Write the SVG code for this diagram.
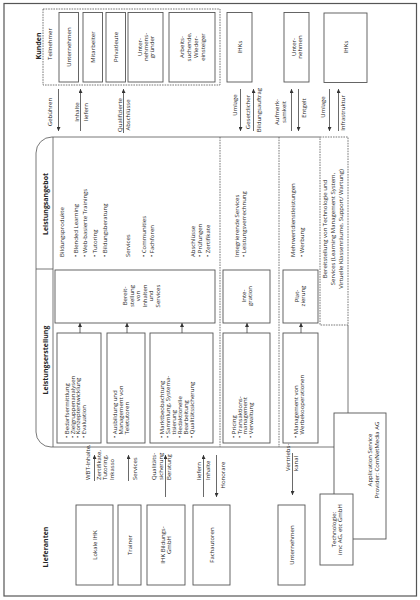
<svg xmlns="http://www.w3.org/2000/svg" width="420" height="600" viewBox="0 0 420 600">
<defs>
<style>
text{font-family:"Open Sans","DejaVu Sans",sans-serif;font-size:6px;fill:#262626}
.b{font-weight:bold;font-size:7px}
.m{text-anchor:middle}
.box{fill:#fff;stroke:#555;stroke-width:0.9}
.dash{fill:none;stroke:#555;stroke-width:0.8;stroke-dasharray:1.6 1}
.ln{fill:none;stroke:#555;stroke-width:0.8}
.ar{fill:none;stroke:#444;stroke-width:0.8;marker-end:url(#ah)}
</style>
<marker id="ah" viewBox="0 0 6 6" refX="6" refY="3" markerWidth="4" markerHeight="4" orient="auto" markerUnits="userSpaceOnUse"><path d="M0,0 L6,3 L0,6 z" fill="#333"/></marker>
</defs>
<rect x="4" y="3.5" width="412.5" height="592.5" fill="#fff" stroke="#555" stroke-width="1.2"/>

<g id="kunden">
<text class="b m" x="40.5" y="46" transform="rotate(-90 40.5 46)">Kunden</text>
<rect class="dash" x="43" y="9" width="177" height="76"/>
<text class="m" x="52" y="44" transform="rotate(-90 52 44)">Teilnehmer</text>
</g>
<g id="k-unternehmen"><rect class="box" x="59" y="12.5" width="19.5" height="69.5"/><text class="m" x="71" y="47" transform="rotate(-90 71 47)">Unternehmen</text></g>
<g id="k-mitarbeiter"><rect class="box" x="83" y="12.5" width="19.5" height="69.5"/><text class="m" x="94.5" y="47" transform="rotate(-90 94.5 47)">Mitarbeiter</text></g>
<g id="k-privatleute"><rect class="box" x="106" y="12.5" width="19.5" height="69.5"/><text class="m" x="117.5" y="47" transform="rotate(-90 117.5 47)">Privatleute</text></g>
<g id="k-gruender"><rect class="box" x="128" y="12.5" width="35" height="69.5"/>
<text class="m" x="141.5" y="47" transform="rotate(-90 141.5 47)">Unter-</text>
<text class="m" x="147.5" y="47" transform="rotate(-90 147.5 47)">nehmens-</text>
<text class="m" x="153.5" y="47" transform="rotate(-90 153.5 47)">gründer</text></g>
<g id="k-arbeitsuchende"><rect class="box" x="169" y="12.5" width="46" height="69.5"/>
<text class="m" x="183.5" y="47" transform="rotate(-90 183.5 47)">Arbeits-</text>
<text class="m" x="190.5" y="47" transform="rotate(-90 190.5 47)">suchende,</text>
<text class="m" x="197.5" y="47" transform="rotate(-90 197.5 47)">Wieder-</text>
<text class="m" x="204.5" y="47" transform="rotate(-90 204.5 47)">einsteiger</text></g>
<g id="k-ihks1"><rect class="box" x="227" y="12.5" width="25" height="69.5"/><text class="m" x="241.5" y="47" transform="rotate(-90 241.5 47)">IHKs</text></g>
<g id="k-unternehmen2"><rect class="box" x="284" y="12.5" width="25" height="69.5"/>
<text class="m" x="295.5" y="47" transform="rotate(-90 295.5 47)">Unter-</text>
<text class="m" x="301.5" y="47" transform="rotate(-90 301.5 47)">nehmen</text></g>
<g id="k-ihks2"><rect class="box" x="324" y="13" width="43" height="69.5"/><text class="m" x="347.5" y="47" transform="rotate(-90 347.5 47)">IHKs</text></g>

<g id="wertschoepfung">
<path class="ln" d="M320 137 H52 A16 16 0 0 0 36 153 V432 A15 15 0 0 0 51 447 H334"/>
<line class="ln" x1="53" y1="137" x2="53" y2="447"/>
<line class="ln" x1="36" y1="269" x2="53" y2="269"/>
<line class="dash" x1="220" y1="137" x2="220" y2="447"/>
<line class="dash" x1="279" y1="137" x2="279" y2="447"/>
<text class="b m" x="47.5" y="204" transform="rotate(-90 47.5 204)">Leistungsangebot</text>
<text class="b m" x="47.5" y="360" transform="rotate(-90 47.5 360)">Leistungserstellung</text>
</g>

<g id="angebot-bildung">
<text x="64" y="257" transform="rotate(-90 64 257)">Bildungsprodukte</text>
<text x="78" y="257" transform="rotate(-90 78 257)">• Blended Learning</text>
<text x="87" y="257" transform="rotate(-90 87 257)">• Web-basierte Trainings</text>
<text x="97" y="257" transform="rotate(-90 97 257)">• Tutoring</text>
<text x="107" y="257" transform="rotate(-90 107 257)">• Bildungsberatung</text>
<text x="130" y="257" transform="rotate(-90 130 257)">Services</text>
<text x="146" y="257" transform="rotate(-90 146 257)">• Communities</text>
<text x="154" y="257" transform="rotate(-90 154 257)">• Fachforen</text>
<text x="195" y="257" transform="rotate(-90 195 257)">Abschlüsse</text>
<text x="202" y="257" transform="rotate(-90 202 257)">• Prüfungen</text>
<text x="210" y="257" transform="rotate(-90 210 257)">• Zertifikate</text>
</g>
<g id="angebot-integration">
<text x="239" y="257" transform="rotate(-90 239 257)">Integrierende Services</text>
<text x="246" y="257" transform="rotate(-90 246 257)">• Leistungsverrechnung</text>
</g>
<g id="angebot-mehrwert">
<text x="295" y="257" transform="rotate(-90 295 257)">Mehrwertdienstleistungen</text>
<text x="304" y="257" transform="rotate(-90 304 257)">• Werbung</text>
</g>
<g id="technologie-services">
<rect class="dash" x="320" y="137" width="28" height="188"/>
<text class="m" x="327" y="229" transform="rotate(-90 327 229)">Bereitstellung von Technologie und</text>
<text class="m" x="335" y="229" transform="rotate(-90 335 229)">Services (Learning Management System,</text>
<text class="m" x="343" y="229" transform="rotate(-90 343 229)">Virtuelle Klassenräume, Support/ Wartung)</text>
</g>

<g id="bereitstellung"><rect class="box" x="55" y="270" width="160" height="53"/>
<text class="m" x="127" y="296" transform="rotate(-90 127 296)">Bereit-</text>
<text class="m" x="133.5" y="296" transform="rotate(-90 133.5 296)">stellung</text>
<text class="m" x="140" y="296" transform="rotate(-90 140 296)">von</text>
<text class="m" x="146.5" y="296" transform="rotate(-90 146.5 296)">Inhalten</text>
<text class="m" x="153" y="296" transform="rotate(-90 153 296)">und</text>
<text class="m" x="159.5" y="296" transform="rotate(-90 159.5 296)">Services</text></g>
<g id="integration"><rect class="box" x="223" y="270" width="47" height="53"/>
<text class="m" x="245.5" y="296" transform="rotate(-90 245.5 296)">Inte-</text>
<text class="m" x="251.5" y="296" transform="rotate(-90 251.5 296)">gration</text></g>
<g id="platzierung"><rect class="box" x="283" y="270" width="35" height="53"/>
<text class="m" x="299" y="296" transform="rotate(-90 299 296)">Plat-</text>
<text class="m" x="305" y="296" transform="rotate(-90 305 296)">zierung</text></g>

<g id="e-bedarf"><rect class="box" x="57" y="333" width="44" height="110"/>
<text x="69" y="438" transform="rotate(-90 69 438)">• Bedarfsermittlung</text>
<text x="74.5" y="438" transform="rotate(-90 74.5 438)">• Zielgruppenanalysen</text>
<text x="80" y="438" transform="rotate(-90 80 438)">• Konzeptentwicklung</text>
<text x="85.5" y="438" transform="rotate(-90 85.5 438)">• Evaluation</text></g>
<g id="e-tutoren"><rect class="box" x="107" y="333" width="38" height="110"/>
<text x="117" y="438" transform="rotate(-90 117 438)">• Ausbildung und</text>
<text x="123" y="434.5" transform="rotate(-90 123 434.5)">Management von</text>
<text x="129" y="434.5" transform="rotate(-90 129 434.5)">Teletutoren</text></g>
<g id="e-markt"><rect class="box" x="150" y="333" width="63" height="110"/>
<text x="164" y="438" transform="rotate(-90 164 438)">• Marktbeobachtung</text>
<text x="170" y="438" transform="rotate(-90 170 438)">• Sammlung, Systema-</text>
<text x="176" y="434.5" transform="rotate(-90 176 434.5)">tisierung</text>
<text x="182" y="438" transform="rotate(-90 182 438)">• Redaktionelle</text>
<text x="188" y="434.5" transform="rotate(-90 188 434.5)">Bearbeitung</text>
<text x="194" y="438" transform="rotate(-90 194 438)">• Qualitätssicherung</text></g>
<g id="e-pricing"><rect class="box" x="223" y="333" width="47" height="110"/>
<text x="236" y="438" transform="rotate(-90 236 438)">• Pricing</text>
<text x="241.5" y="438" transform="rotate(-90 241.5 438)">• Transaktions-</text>
<text x="247" y="434.5" transform="rotate(-90 247 434.5)">management</text>
<text x="252.5" y="438" transform="rotate(-90 252.5 438)">• Verwaltung</text></g>
<g id="e-werbung"><rect class="box" x="283" y="333" width="35" height="110"/>
<text x="298" y="438" transform="rotate(-90 298 438)">• Management von</text>
<text x="304" y="434.5" transform="rotate(-90 304 434.5)">Werbekooperationen</text></g>

<g id="lieferanten">
<text class="b m" x="47.5" y="547" transform="rotate(-90 47.5 547)">Lieferanten</text>
</g>
<g id="l-ihk"><rect class="box" x="76" y="505" width="37" height="80"/><text class="m" x="96.5" y="545" transform="rotate(-90 96.5 545)">Lokale IHK</text></g>
<g id="l-trainer"><rect class="box" x="118" y="505" width="23" height="80"/><text class="m" x="131.5" y="545" transform="rotate(-90 131.5 545)">Trainer</text></g>
<g id="l-ihkgmbh"><rect class="box" x="147" y="505" width="38" height="80"/>
<text class="m" x="165" y="545" transform="rotate(-90 165 545)">IHK Bildungs-</text>
<text class="m" x="171" y="545" transform="rotate(-90 171 545)">GmbH</text></g>
<g id="l-fachautoren"><rect class="box" x="193" y="505" width="37" height="80"/><text class="m" x="213.5" y="545" transform="rotate(-90 213.5 545)">Fachautoren</text></g>
<g id="l-unternehmen"><rect class="box" x="278" y="505" width="27" height="80"/><text class="m" x="293.5" y="545" transform="rotate(-90 293.5 545)">Unternehmen</text></g>
<g id="l-asp"><rect class="box" x="334" y="413" width="52" height="126"/>
<text class="m" x="372" y="460" transform="rotate(-90 372 460)">Application Service</text>
<text class="m" x="379" y="460" transform="rotate(-90 379 460)">Provider: ComNetMedia AG</text></g>
<g id="l-technologie"><rect class="box" x="320" y="494" width="33" height="71"/>
<text class="m" x="335.5" y="529.5" transform="rotate(-90 335.5 529.5)">Technologie:</text>
<text class="m" x="341.5" y="529.5" transform="rotate(-90 341.5 529.5)">imc AG, etc GmbH</text></g>

<g id="connectors">
<line class="ln" x1="348" y1="325" x2="348" y2="413"/>
<line class="ar" x1="58.5" y1="89" x2="58.5" y2="131"/>
<line class="ar" x1="80.5" y1="131" x2="80.5" y2="89"/>
<line class="ar" x1="123.5" y1="133" x2="123.5" y2="89"/>
<line class="ar" x1="240.5" y1="89" x2="240.5" y2="131"/>
<line class="ar" x1="253.5" y1="131" x2="253.5" y2="89"/>
<line class="ar" x1="291.5" y1="131" x2="291.5" y2="89"/>
<line class="ar" x1="298.5" y1="89" x2="298.5" y2="131"/>
<line class="ar" x1="329.5" y1="89" x2="329.5" y2="131"/>
<line class="ar" x1="338.5" y1="131" x2="338.5" y2="89"/>
<line class="ar" x1="80" y1="333" x2="80" y2="323"/>
<line class="ar" x1="127" y1="333" x2="127" y2="323"/>
<line class="ar" x1="182" y1="333" x2="182" y2="323"/>
<line class="ar" x1="247" y1="333" x2="247" y2="323"/>
<line class="ar" x1="301" y1="333" x2="301" y2="323"/>
<line class="ar" x1="94.5" y1="481" x2="94.5" y2="455"/>
<line class="ar" x1="128.5" y1="481" x2="128.5" y2="455"/>
<line class="ar" x1="165.5" y1="497" x2="165.5" y2="455"/>
<line class="ar" x1="203.5" y1="497" x2="203.5" y2="455"/>
<line class="ar" x1="216.5" y1="455" x2="216.5" y2="497"/>
<line class="ar" x1="292.5" y1="453" x2="292.5" y2="495"/>
<text class="m" x="52" y="112" transform="rotate(-90 52 112)">Gebühren</text>
<text class="m" x="79" y="112" transform="rotate(-90 79 112)">Inhalte</text>
<text class="m" x="88" y="112" transform="rotate(-90 88 112)">liefern</text>
<text class="m" x="122" y="115" transform="rotate(-90 122 115)">Qualifizierte</text>
<text class="m" x="130" y="115" transform="rotate(-90 130 115)">Abschlüsse</text>
<text class="m" x="237" y="105" transform="rotate(-90 237 105)">Umlage</text>
<text class="m" x="250" y="112" transform="rotate(-90 250 112)">Gesetzlicher</text>
<text class="m" x="261" y="110" transform="rotate(-90 261 110)">Bildungsauftrag</text>
<text class="m" x="279" y="112" transform="rotate(-90 279 112)">Aufmerk-</text>
<text class="m" x="286" y="112" transform="rotate(-90 286 112)">samkeit</text>
<text class="m" x="306" y="108" transform="rotate(-90 306 108)">Entgelt</text>
<text class="m" x="325" y="107" transform="rotate(-90 325 107)">Umlage</text>
<text class="m" x="345" y="113" transform="rotate(-90 345 113)">Infrastruktur</text>
<text x="90" y="480" transform="rotate(-90 90 480)">WBT-Inhalte,</text>
<text x="100.5" y="480" transform="rotate(-90 100.5 480)">Zertifikate,</text>
<text x="107" y="480" transform="rotate(-90 107 480)">Tutoring,</text>
<text x="113.5" y="480" transform="rotate(-90 113.5 480)">Inkasso</text>
<text x="137" y="480" transform="rotate(-90 137 480)">Services</text>
<text x="156" y="480" transform="rotate(-90 156 480)">Qualitäts-</text>
<text x="163" y="480" transform="rotate(-90 163 480)">sicherung</text>
<text x="171" y="480" transform="rotate(-90 171 480)">Beratung</text>
<text x="201" y="480" transform="rotate(-90 201 480)">liefern</text>
<text x="210" y="480" transform="rotate(-90 210 480)">Inhalte</text>
<text class="m" x="225" y="475" transform="rotate(-90 225 475)">Honorare</text>
<text x="290" y="471" transform="rotate(-90 290 471)">Vertriebs-</text>
<text x="298" y="471" transform="rotate(-90 298 471)">kanal</text>
</g>
</svg>
